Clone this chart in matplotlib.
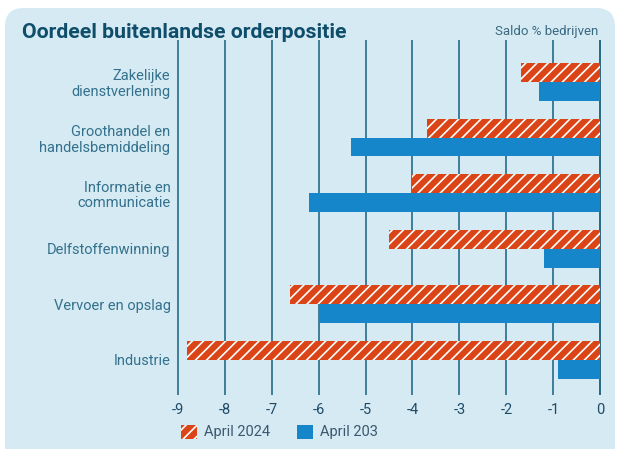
import numpy as np
import matplotlib.pyplot as plt
from matplotlib.patches import FancyBboxPatch, Patch

plt.rcParams['font.family'] = ['Roboto', 'DejaVu Sans']
plt.rcParams['hatch.color'] = 'white'
plt.rcParams['hatch.linewidth'] = 1.2

categories = ['Zakelijke\ndienstverlening', 'Groothandel en\nhandelsbemiddeling',
              'Informatie en\ncommunicatie', 'Delfstoffenwinning',
              'Vervoer en opslag', 'Industrie']
april_2024 = [-1.7, -3.7, -4.0, -4.5, -6.6, -8.8]
april_2023 = [-1.3, -5.3, -6.2, -1.2, -6.0, -0.9]
xticks = [-9, -8, -7, -6, -5, -4, -3, -2, -1, 0]

bg = '#d5eaf3'
red = '#db4416'
blue = '#1586c9'
grid = '#3e7e97'
label_col = '#34718c'

fig = plt.figure(figsize=(6.19, 4.49), dpi=100)
fig.patch.set_facecolor('white')
box = FancyBboxPatch((5 / 619, -0.05), 610 / 619, (449 - 8) / 449 + 0.05,
                     boxstyle='round,pad=0,rounding_size=0.03',
                     transform=fig.transFigure, facecolor=bg, edgecolor='none',
                     mutation_aspect=619 / 449, zorder=-10)
fig.patches.append(box)

ax = fig.add_axes([170.5 / 619, (449 - 395) / 449, (607.5 - 170.5) / 619, (395 - 40) / 449])
ax.set_facecolor('none')

y = np.arange(len(categories))
h = 0.34
ax.barh(y - h / 2, april_2024, height=h, color=red, hatch='///', edgecolor='white',
        linewidth=0, zorder=3)
ax.barh(y + h / 2, april_2023, height=h, color=blue, linewidth=0, zorder=3)

ax.set_xlim(-9.15, 0.15)
ax.set_ylim(5.63, -0.755)
ax.set_xticks(xticks)
ax.set_xticklabels([str(t) for t in xticks])
ax.set_yticks(y)
ax.set_yticklabels(categories, fontsize=10.5, color=label_col, linespacing=1.15)
ax.tick_params(axis='y', length=0, pad=0)
ax.tick_params(axis='x', length=0, pad=6, labelsize=10.5, labelcolor='#1f4a66')
for t in xticks:
    ax.axvline(t, color=grid if t != 0 else '#2a6680', linewidth=1.4, zorder=2)
for s in ax.spines.values():
    s.set_visible(False)

fig.text(22 / 619, 1 - 32 / 449, 'Oordeel buitenlandse orderpositie', fontsize=15.3,
         fontweight='bold', color='#0e4e6b', va='center', ha='left')
fig.text(598 / 619, 1 - 31 / 449, 'Saldo % bedrijven', fontsize=9.5,
         color='#3a6a82', va='center', ha='right')

handles = [Patch(facecolor=red, hatch='///', edgecolor='white', linewidth=0),
           Patch(facecolor=blue, linewidth=0)]
leg = fig.legend(handles, ['April 2024', 'April 203'], loc='center left',
                 bbox_to_anchor=(168 / 619, 1 - 432 / 449), ncol=2, frameon=False,
                 fontsize=10.5, handlelength=1.1, handleheight=1.1, columnspacing=1.8,
                 handletextpad=0.5)
for txt in leg.get_texts():
    txt.set_color('#3b5870')

fig.savefig('out.png', dpi=100, facecolor='white')
